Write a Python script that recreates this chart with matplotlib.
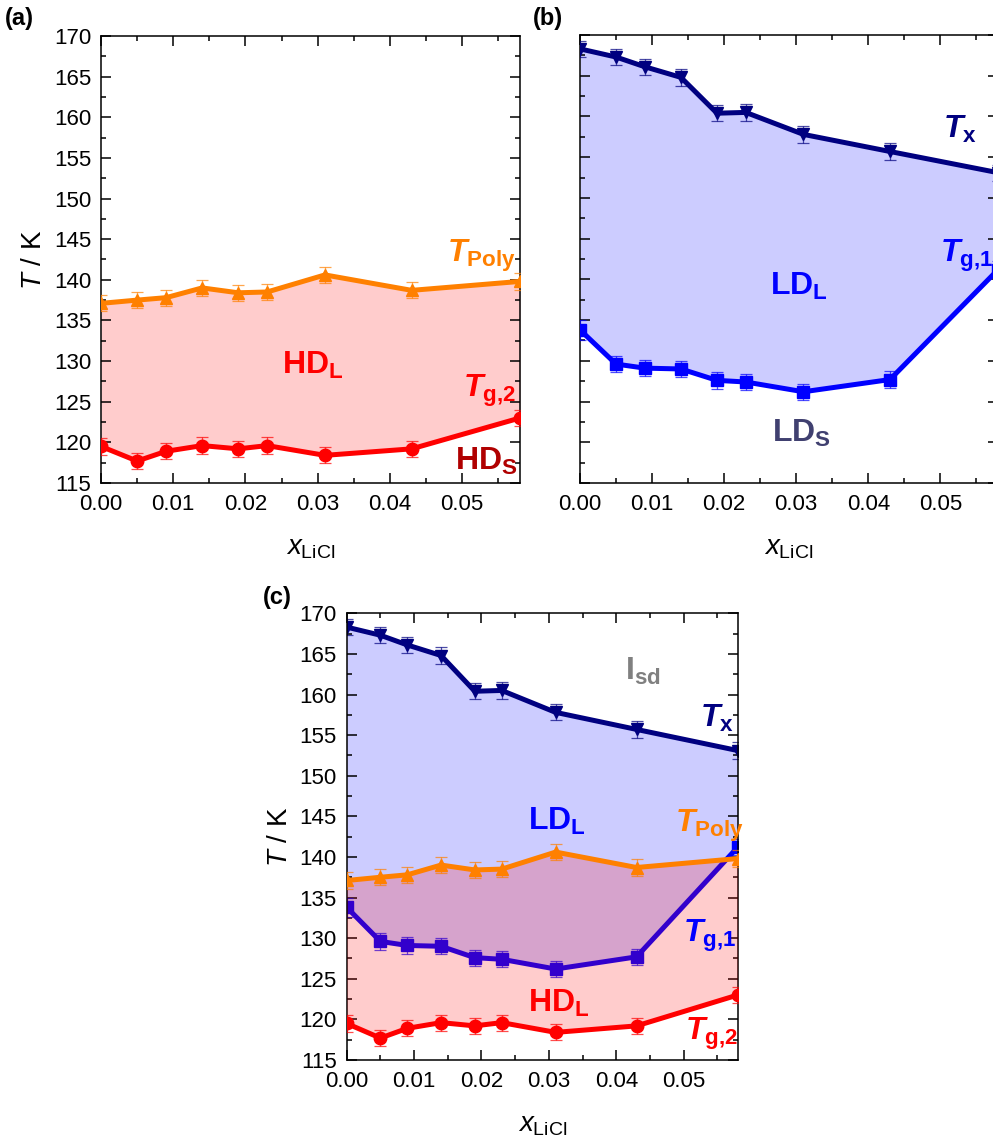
import numpy as np
import matplotlib
matplotlib.use('Agg')
import matplotlib.pyplot as plt
from matplotlib.ticker import MultipleLocator, FormatStrFormatter

plt.rcParams['font.family'] = ['Liberation Sans', 'DejaVu Sans']
plt.rcParams['mathtext.fontset'] = 'custom'
plt.rcParams['mathtext.rm'] = 'Liberation Sans'
plt.rcParams['mathtext.it'] = 'Liberation Sans:italic'
plt.rcParams['mathtext.bf'] = 'Liberation Sans:bold'
plt.rcParams['mathtext.bfit'] = 'Liberation Sans:italic:bold'

# LiCl mole fraction
x_licl = [0.0, 0.005, 0.009, 0.014, 0.019, 0.023, 0.031, 0.043, 0.058]

# transition temperatures (K)
t_poly = [137.1, 137.5, 137.8, 139.0, 138.4, 138.5, 140.6, 138.7, 139.8]
t_g2 = [119.5, 117.7, 118.9, 119.6, 119.2, 119.6, 118.4, 119.2, 123.0]
t_x = [168.3, 167.3, 166.1, 164.8, 160.4, 160.5, 157.8, 155.7, 153.1]
t_g1 = [133.8, 129.6, 129.1, 129.0, 127.6, 127.4, 126.2, 127.7, 141.2]

# error bars (K)
err_poly = [1.0, 1.0, 1.0, 1.0, 1.0, 1.0, 1.0, 1.0, 1.0]
err_g2 = [1.0, 1.0, 1.0, 1.0, 1.0, 1.0, 1.0, 1.0, 1.0]
err_x = [1.0, 1.0, 1.0, 1.0, 1.0, 1.0, 1.0, 1.0, 1.0]
err_g1 = [1.2, 1.0, 1.0, 1.0, 1.0, 1.0, 1.0, 1.0, 1.0]

ORANGE = '#ff8000'
RED = '#ff0000'
DARKRED = '#b00000'
NAVY = '#000080'
BLUE = '#0000ff'
SLATE = '#404070'
GREY = '#808080'


def style_axes(ax, show_ylabels=True):
    ax.set_xlim(0, 0.058)
    ax.set_ylim(115, 170)
    ax.xaxis.set_major_locator(MultipleLocator(0.01))
    ax.xaxis.set_minor_locator(MultipleLocator(0.005))
    ax.xaxis.set_major_formatter(FormatStrFormatter('%.2f'))
    ax.yaxis.set_major_locator(MultipleLocator(5))
    ax.yaxis.set_minor_locator(MultipleLocator(2.5))
    ax.tick_params(which='both', direction='in', top=True, right=True,
                   width=1.1, labelsize=16)
    ax.tick_params(which='major', length=7)
    ax.tick_params(which='minor', length=3.5)
    ax.tick_params(axis='x', pad=8)
    ax.tick_params(axis='y', pad=7)
    for s in ax.spines.values():
        s.set_linewidth(1.1)
    ax.set_xlabel(r'$\mathit{x}_{\mathrm{LiCl}}$', fontsize=20, labelpad=14)
    if show_ylabels:
        ax.set_ylabel(r'$\mathit{T}$ / K', fontsize=20, labelpad=5)
    else:
        ax.tick_params(axis='y', labelleft=False)


def series(ax, y, err, color, marker, z):
    ax.errorbar(x_licl, y, yerr=err, fmt='none', ecolor=color, elinewidth=0.9,
                capsize=4.5, capthick=0.9, alpha=0.7, zorder=z)
    ax.plot(x_licl, y, color=color, lw=3.6, marker=marker, ms=9, zorder=z)


def label(ax, xf, yf, s, color, size=23):
    ax.text(xf, yf, s, transform=ax.transAxes, color=color, fontsize=size,
            ha='left', va='baseline', zorder=10)


fig = plt.figure(figsize=(9.93, 11.41), dpi=100)
ax_a = fig.add_axes([0.1017, 0.5767, 0.422, 0.3918])
ax_b = fig.add_axes([0.5841, 0.5767, 0.421, 0.3926])
ax_c = fig.add_axes([0.3491, 0.0710, 0.3938, 0.3915])

# (a) HDA region
ax_a.fill_between(x_licl, t_g2, t_poly, color=RED, alpha=0.2, lw=0, zorder=1)
series(ax_a, t_poly, err_poly, ORANGE, '^', 3)
series(ax_a, t_g2, err_g2, RED, 'o', 3)
style_axes(ax_a)
label(ax_a, 0.826, 0.494, r'$\mathbfit{T}_{\mathbf{Poly}}$', ORANGE)
label(ax_a, 0.432, 0.244, r'$\mathbf{HD}_{\mathbf{L}}$', RED)
label(ax_a, 0.864, 0.192, r'$\mathbfit{T}_{\mathbf{g{,}2}}$', RED)
label(ax_a, 0.845, 0.029, r'$\mathbf{HD}_{\mathbf{S}}$', DARKRED)

# (b) LDA region
ax_b.fill_between(x_licl, t_g1, t_x, color=BLUE, alpha=0.2, lw=0, zorder=1)
series(ax_b, t_x, err_x, NAVY, 'v', 3)
series(ax_b, t_g1, err_g1, BLUE, 's', 3)
style_axes(ax_b, show_ylabels=False)
label(ax_b, 0.869, 0.770, r'$\mathbfit{T}_{\mathbf{x}}$', NAVY)
label(ax_b, 0.862, 0.493, r'$\mathbfit{T}_{\mathbf{g{,}1}}$', BLUE)
label(ax_b, 0.455, 0.420, r'$\mathbf{LD}_{\mathbf{L}}$', BLUE)
label(ax_b, 0.459, 0.0915, r'$\mathbf{LD}_{\mathbf{S}}$', SLATE)

# (c) combined
ax_c.fill_between(x_licl, t_g1, t_x, color=BLUE, alpha=0.2, lw=0, zorder=1)
series(ax_c, t_x, err_x, NAVY, 'v', 2)
series(ax_c, t_g1, err_g1, BLUE, 's', 2)
ax_c.fill_between(x_licl, t_g2, t_poly, color=RED, alpha=0.2, lw=0, zorder=3)
series(ax_c, t_poly, err_poly, ORANGE, '^', 4)
series(ax_c, t_g2, err_g2, RED, 'o', 4)
style_axes(ax_c)
label(ax_c, 0.712, 0.851, r'$\mathbf{I}_{\mathbf{sd}}$', GREY)
label(ax_c, 0.904, 0.745, r'$\mathbfit{T}_{\mathbf{x}}$', NAVY)
label(ax_c, 0.464, 0.515, r'$\mathbf{LD}_{\mathbf{L}}$', BLUE)
label(ax_c, 0.840, 0.510, r'$\mathbfit{T}_{\mathbf{Poly}}$', ORANGE)
label(ax_c, 0.860, 0.264, r'$\mathbfit{T}_{\mathbf{g{,}1}}$', BLUE)
label(ax_c, 0.464, 0.107, r'$\mathbf{HD}_{\mathbf{L}}$', RED)
label(ax_c, 0.865, 0.045, r'$\mathbfit{T}_{\mathbf{g{,}2}}$', RED)

fig.text(5 / 993, 1 - 7 / 1141, '(a)', fontsize=17, fontweight='bold', va='top')
fig.text(533 / 993, 1 - 7 / 1141, '(b)', fontsize=17, fontweight='bold', va='top')
fig.text(263 / 993, 1 - 586 / 1141, '(c)', fontsize=17, fontweight='bold', va='top')

fig.savefig('out.png', dpi=100)
